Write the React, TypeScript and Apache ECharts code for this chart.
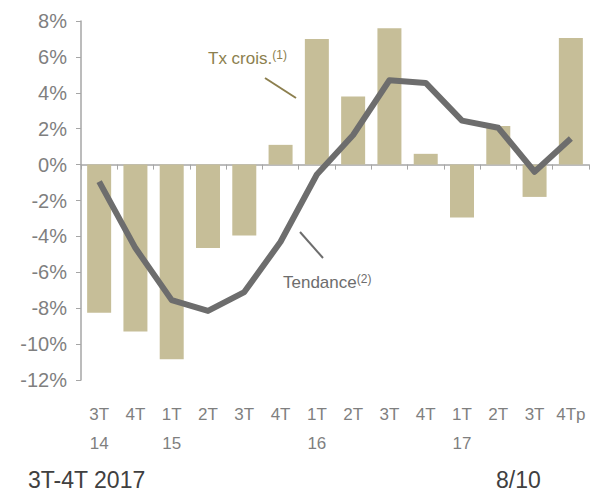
import React, { useEffect, useRef } from "react";
import * as echarts from "echarts";

const categories = ["3T\n14", "4T\n", "1T\n15", "2T\n", "3T\n", "4T\n", "1T\n16", "2T\n", "3T\n", "4T\n", "1T\n17", "2T\n", "3T\n", "4Tp\n"];
const growthRate = [-8.25, -9.3, -10.85, -4.65, -3.95, 1.1, 7.0, 3.8, 7.6, 0.6, -2.95, 2.15, -1.8, 7.05];
const trend = [-0.95, -4.65, -7.55, -8.15, -7.1, -4.3, -0.55, 1.65, 4.7, 4.55, 2.45, 2.05, -0.4, 1.45];
const yTicks = { min: -12, max: 8, interval: 2 };

const FONT = "Liberation Sans";

export default function App() {
  const ref = useRef<HTMLDivElement>(null);
  useEffect(() => {
    if (!ref.current) return;
    const chart = echarts.init(ref.current, null, { renderer: "svg" });
    chart.setOption({
      animation: false,
      textStyle: { fontFamily: FONT },
      grid: { left: 81, right: 4, top: 21, bottom: 113 },
      xAxis: [
        {
          type: "category",
          data: categories,
          axisLine: { onZero: true, lineStyle: { color: "#a6a6a6", width: 1.5 } },
          axisTick: { show: true, length: 5, lineStyle: { color: "#a6a6a6" } },
          axisLabel: { show: false },
        },
        {
          type: "category",
          data: categories,
          position: "bottom",
          axisLine: { show: false, onZero: false },
          axisTick: { show: false },
          axisLabel: {
            interval: 0,
            margin: 20,
            color: "#7f7f7f",
            fontSize: 17,
            lineHeight: 29,
            fontFamily: FONT,
          },
        },
      ],
      yAxis: {
        type: "value",
        min: yTicks.min,
        max: yTicks.max,
        interval: yTicks.interval,
        splitLine: { show: false },
        axisLine: { show: true, lineStyle: { color: "#a6a6a6", width: 1.5 } },
        axisTick: { show: true, length: 5, lineStyle: { color: "#a6a6a6" } },
        axisLabel: {
          formatter: (v: number) => v + "%",
          color: "#7f7f7f",
          fontSize: 20,
          fontFamily: FONT,
          margin: 14,
        },
      },
      series: [
        {
          type: "bar",
          data: growthRate,
          barWidth: 24,
          itemStyle: { color: "#c6be98" },
          z: 1,
        },
        {
          type: "line",
          data: trend,
          symbol: "none",
          lineStyle: { color: "#6d6d6d", width: 6, join: "round" },
          z: 3,
        },
      ],
      graphic: [
        {
          type: "text",
          left: 208,
          top: 49,
          style: {
            text: "{a|Tx crois.}{s|(1)}",
            rich: {
              a: { fontSize: 17, fill: "#8c7f4e", fontFamily: FONT },
              s: { fontSize: 12, fill: "#8c7f4e", fontFamily: FONT, padding: [0, 0, 7, 0] },
            },
          },
        },
        {
          type: "line",
          shape: { x1: 265, y1: 78, x2: 296, y2: 98 },
          style: { stroke: "#8c7f4e", lineWidth: 2 },
        },
        {
          type: "text",
          left: 283,
          top: 273,
          style: {
            text: "{a|Tendance}{s|(2)}",
            rich: {
              a: { fontSize: 17, fill: "#6d6d6d", fontFamily: FONT },
              s: { fontSize: 12, fill: "#6d6d6d", fontFamily: FONT, padding: [0, 0, 7, 0] },
            },
          },
        },
        {
          type: "line",
          shape: { x1: 300, y1: 232, x2: 323, y2: 258 },
          style: { stroke: "#6d6d6d", lineWidth: 2 },
        },
        {
          type: "text",
          left: 28,
          top: 468,
          style: { text: "3T-4T 2017", fontSize: 23, fill: "#404040", fontFamily: FONT },
        },
        {
          type: "text",
          left: 496,
          top: 468,
          style: { text: "8/10", fontSize: 23, fill: "#404040", fontFamily: FONT },
        },
      ],
    });
    return () => chart.dispose();
  }, []);
  return <div ref={ref} style={{ width: 593, height: 493, position: "absolute", left: 0, top: 0 }} />;
}
